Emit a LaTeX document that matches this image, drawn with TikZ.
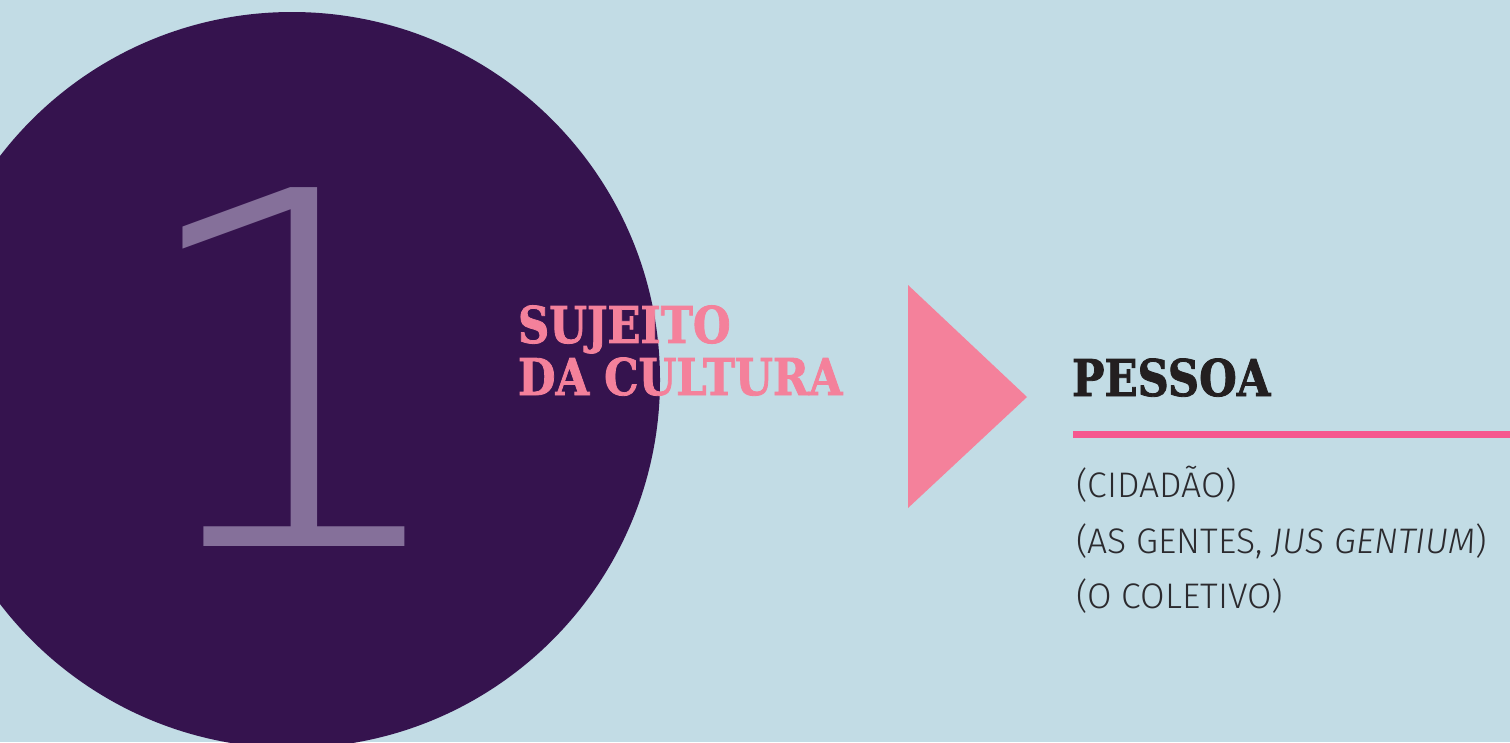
\documentclass[tikz,border=0pt]{standalone}
\usepackage{fontspec}
\usepackage{xcolor}
\newfontfamily\slabfont{DejaVu Serif Condensed Bold}[FakeBold=1.6]
\newfontfamily\numfont{DejaVu Sans ExtraLight}
\newfontfamily\listfont{Fira Sans Light}[ItalicFont={Fira Sans Light Italic}]
\definecolor{skyback}{HTML}{C2DCE5}
\definecolor{plum}{HTML}{35134E}
\definecolor{lilac}{HTML}{85709A}
\definecolor{rosepink}{HTML}{F4819B}
\definecolor{hotpink}{HTML}{F5578F}
\definecolor{inkblack}{HTML}{231F20}
\definecolor{listgray}{HTML}{2B2A2E}

\begin{document}
\begin{tikzpicture}[x=0.01cm,y=-0.01cm]
        \tikzset{every node/.style={inner sep=0pt,outer sep=0pt},
            numeral/.style={anchor=base,xscale=1.1,text=lilac,font=\numfont\fontsize{140}{140}\selectfont},
            heading/.style={anchor=base west,xscale=0.95,font=\slabfont\fontsize{14.4}{14.8}\selectfont,align=left},
            item/.style={anchor=base west,text=listgray,font=\listfont\fontsize{10.1}{12}\selectfont},
            rule/.style={draw=hotpink,line width=0.07cm}}
        \fill[skyback] (0,0) rectangle (1510,742);
        \useasboundingbox (0,0) rectangle (1510,742);
        \begin{scope}
            \clip (0,0) rectangle (1510,742);
            \fill[plum] (292,380) circle (368);
        \end{scope}
        \node[numeral] (one) at (296,546) {1};
        \node[heading,text=rosepink] (subject) at (518,395) {SUJEITO\\DA CULTURA};
        \coordinate (tritop) at (908,285);
        \coordinate (tritip) at (1027,397);
        \coordinate (tribot) at (908,508);
        \fill[rosepink] (tritop) -- (tritip) -- (tribot) -- cycle;
        \node[heading,text=inkblack] (person) at (1072,396) {PESSOA};
        \coordinate (rulestart) at (1073,434);
        \coordinate (ruleend) at (1510,434);
        \draw[rule] (rulestart) -- (ruleend);
        \node[item] (citizen) at (1076,497) {(CIDADÃO)};
        \node[item] (peoples) at (1076,553) {(AS GENTES, \textit{JUS GENTIUM})};
        \node[item] (collective) at (1076,608) {(O COLETIVO)};
    \end{tikzpicture}
\end{document}
